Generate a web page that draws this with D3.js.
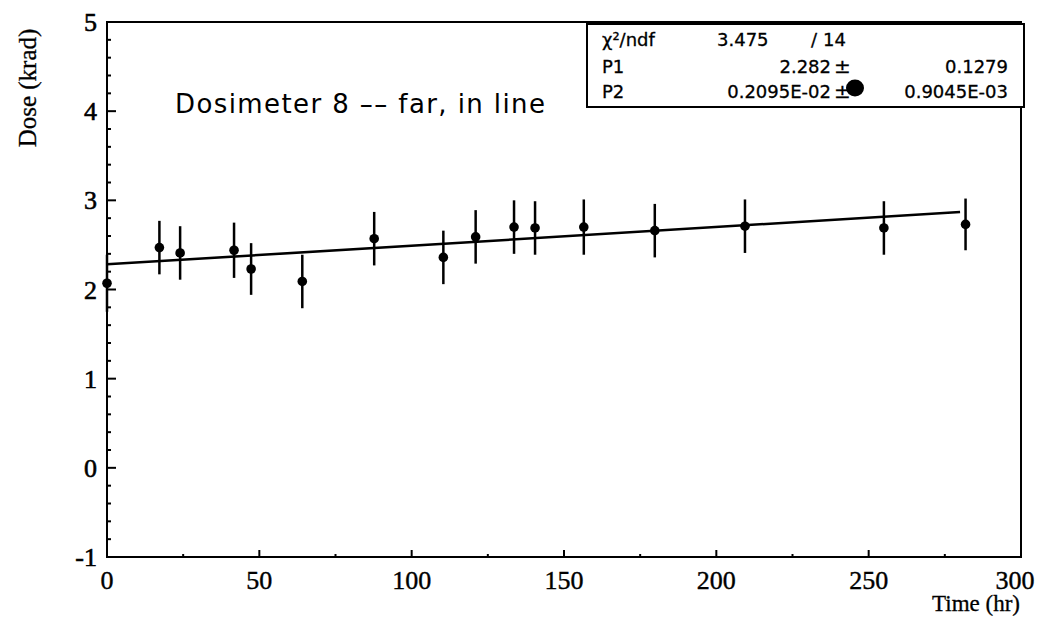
<!DOCTYPE html>
<html>
<head>
<meta charset="utf-8">
<script src="https://cdn.jsdelivr.net/npm/d3@7"></script>
<style>
  body { margin: 0; background: #fff; }
  svg { display: block; }
</style>
</head>
<body>
<svg></svg>
<script>
// Dose vs time, dosimeter 8

// data
const times  = [0, 17.2, 24.0, 41.7, 47.3, 64.1, 87.7, 110.4, 121.0, 133.6, 140.5, 156.5, 179.8, 209.4, 255.0, 281.8];
const doses  = [2.07, 2.47, 2.41, 2.44, 2.23, 2.09, 2.57, 2.36, 2.59, 2.70, 2.69, 2.70, 2.66, 2.71, 2.69, 2.73];
const errors = [0.32, 0.30, 0.30, 0.31, 0.29, 0.30, 0.30, 0.30, 0.30, 0.30, 0.30, 0.31, 0.30, 0.30, 0.30, 0.29];

// linear fit p1 + p2*t
const fitP1 = 2.282, fitP2 = 0.002095;
const fitRange = [0, 280];

const xTicks = [0, 50, 100, 150, 200, 250, 300];
const yTicks = [-1, 0, 1, 2, 3, 4, 5];

const statRows = [
  ["\u03C7\u00B2/ndf", "3.475", "/", "14"],
  ["P1", "2.282", "\u00B1", "0.1279"],
  ["P2", "0.2095E-02", "\u00B1", "0.9045E-03"]
];

let width = 1049,
  height = 618;

let svg = d3.select("svg").attr("width", width).attr("height", height);

let x = d3.scaleLinear().domain([0, 300]).range([107, 1021]);
let y = d3.scaleLinear().domain([-1, 5]).range([557, 22]);

// frame
svg.append("rect")
  .attr("x", x(0)).attr("y", y(5))
  .attr("width", x(300) - x(0)).attr("height", y(-1) - y(5))
  .attr("fill", "none").attr("stroke", "#000").attr("stroke-width", 2);

// y ticks, inside pointing right
let yMinor = d3.range(-1, 5.001, 0.2);
svg.append("g").selectAll("line")
  .data(yMinor)
  .enter().append("line")
  .attr("x1", x(0))
  .attr("x2", (d) => x(0) + (Math.abs(d - Math.round(d)) < 1e-6 ? 9 : 4))
  .attr("y1", (d) => y(d)).attr("y2", (d) => y(d))
  .attr("stroke", "#000").attr("stroke-width", 2);

// x ticks, pointing up
let xMinor = d3.range(0, 301, 25);
svg.append("g").selectAll("line")
  .data(xMinor)
  .enter().append("line")
  .attr("x1", (d) => x(d)).attr("x2", (d) => x(d))
  .attr("y1", y(-1))
  .attr("y2", (d) => y(-1) - (d % 50 === 0 ? 7 : 3))
  .attr("stroke", "#000").attr("stroke-width", 2);

// tick labels (scan is heavy, so a thin stroke thickens them)
svg.append("g").selectAll("text")
  .data(yTicks)
  .enter().append("text")
  .attr("x", 97).attr("y", (d) => y(d) + 9)
  .attr("text-anchor", "end")
  .attr("font-family", "Liberation Serif, serif")
  .attr("font-size", 26)
  .attr("stroke", "#000").attr("stroke-width", 0.6)
  .text((d) => d);

svg.append("g").selectAll("text")
  .data(xTicks)
  .enter().append("text")
  .attr("x", (d) => x(d) - (d === 300 ? 6 : 0)).attr("y", 589)
  .attr("text-anchor", "middle")
  .attr("font-family", "Liberation Serif, serif")
  .attr("font-size", 26)
  .attr("stroke", "#000").attr("stroke-width", 0.4)
  .text((d) => d);

// axis titles
svg.append("text")
  .attr("x", 1020).attr("y", 611)
  .attr("text-anchor", "end")
  .attr("font-family", "Liberation Serif, serif")
  .attr("font-size", 23)
  .attr("stroke", "#000").attr("stroke-width", 0.3)
  .text("Time (hr)");

svg.append("text")
  .attr("transform", "translate(36,88) rotate(-90)")
  .attr("text-anchor", "middle")
  .attr("font-family", "Liberation Serif, serif")
  .attr("font-size", 25)
  .attr("stroke", "#000").attr("stroke-width", 0.3)
  .text("Dose (krad)");

// fit line
svg.append("line")
  .attr("x1", x(fitRange[0])).attr("y1", y(fitP1 + fitP2 * fitRange[0]))
  .attr("x2", x(fitRange[1])).attr("y2", y(fitP1 + fitP2 * fitRange[1]))
  .attr("stroke", "#000").attr("stroke-width", 2.5);

// error bars + points
let pts = times.map((t, i) => ({ t: t, v: doses[i], e: errors[i] }));

svg.append("g").selectAll("line")
  .data(pts)
  .enter().append("line")
  .attr("x1", (d) => x(d.t)).attr("x2", (d) => x(d.t))
  .attr("y1", (d) => y(d.v + d.e)).attr("y2", (d) => y(d.v - d.e))
  .attr("stroke", "#000").attr("stroke-width", 2.5);

svg.append("g").selectAll("circle")
  .data(pts)
  .enter().append("circle")
  .attr("cx", (d) => x(d.t)).attr("cy", (d) => y(d.v))
  .attr("r", 4.8)
  .attr("fill", "#000");

// label
svg.append("text")
  .attr("x", 175).attr("y", 113)
  .attr("font-family", "DejaVu Sans, sans-serif")
  .attr("font-size", 26)
  .attr("textLength", 370)
  .attr("lengthAdjust", "spacing")
  .text("Dosimeter 8 \u2013\u2013 far, in line");

// stats box
let box = svg.append("g");
box.append("rect")
  .attr("x", 587).attr("y", 24).attr("width", 437).attr("height", 83)
  .attr("fill", "#fff").attr("stroke", "#000").attr("stroke-width", 2);

let rowY = [46, 73, 98];
let sf = "DejaVu Sans, sans-serif";
function cell(tx, ty, str, anchor, size) {
  box.append("text").attr("x", tx).attr("y", ty)
    .attr("text-anchor", anchor || "start")
    .attr("font-family", sf).attr("font-size", size || 18)
    .attr("stroke", "#000").attr("stroke-width", 0.3)
    .text(str);
}
statRows.forEach((r, i) => {
  cell(602, rowY[i], r[0]);
  if (i === 0) {
    cell(717, rowY[i], r[1]);
    cell(811, rowY[i], r[2]);
    cell(823, rowY[i], r[3]);
  } else {
    cell(831, rowY[i], r[1], "end");
    cell(834, rowY[i], r[2], "start", 20);
    cell(1008, rowY[i], r[3], "end");
  }
});

// ink blot over the second ± in the scan
box.append("ellipse")
  .attr("cx", 855).attr("cy", 88).attr("rx", 9).attr("ry", 8.5)
  .attr("fill", "#000");
</script>
</body>
</html>
